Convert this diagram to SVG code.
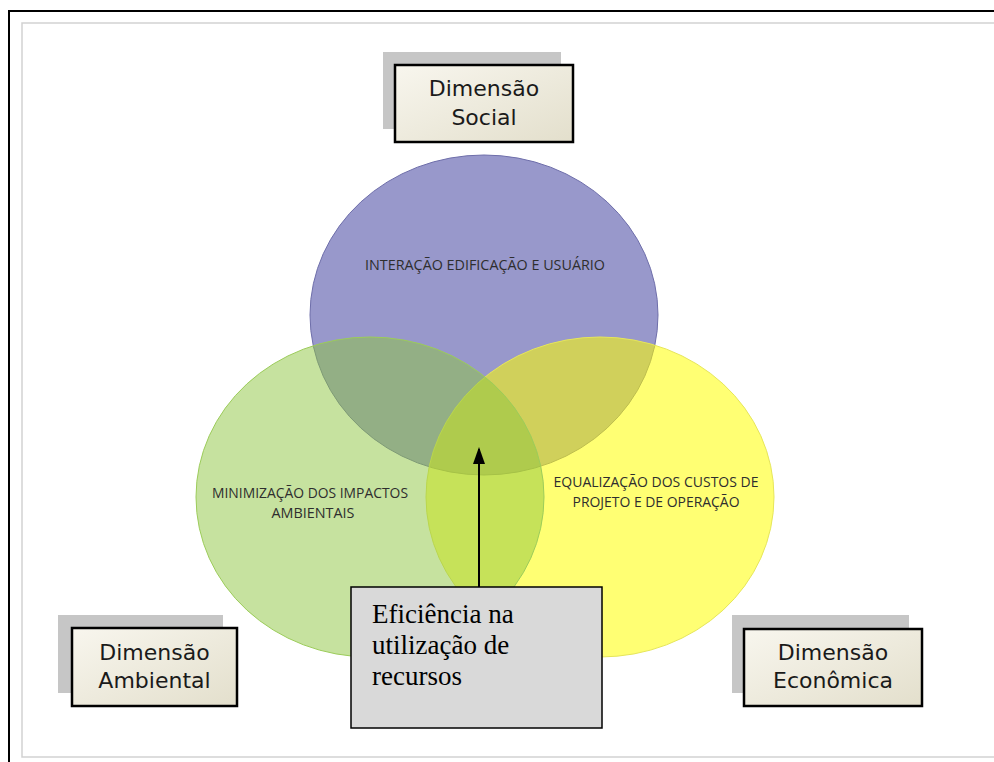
<svg xmlns="http://www.w3.org/2000/svg" width="994" height="762" viewBox="0 0 994 762">
<defs>
<linearGradient id="cream" x1="0" y1="0" x2="1" y2="1">
<stop offset="0" stop-color="#f8f6ee"/>
<stop offset="1" stop-color="#e3dfcc"/>
</linearGradient>
<marker id="arrow" markerWidth="17" markerHeight="12" refX="15" refY="6" orient="auto" markerUnits="userSpaceOnUse" viewBox="0 0 17 12">
<path d="M0,0 L17,6 L0,12 Z" fill="#000"/>
</marker>
<style>
.shadow{fill:#c6c6c6}
.dim{fill:url(#cream);stroke:#000;stroke-width:2.5}
.dimtxt{font-family:"DejaVu Sans",Verdana,sans-serif;font-size:22px;fill:#1a1a1a;text-anchor:middle}
.lbl{font-family:"Open Sans","Liberation Sans",sans-serif;font-size:14px;fill:#2e2e2e;text-anchor:middle}
.note{font-family:"Liberation Serif","Times New Roman",serif;font-size:27px;fill:#000}
</style>
</defs>
<rect x="0" y="0" width="994" height="762" fill="#fff"/>
<rect x="9" y="11" width="1000" height="800" fill="none" stroke="#000" stroke-width="2"/>
<rect x="22" y="23" width="1000" height="734" fill="none" stroke="#d2d2d2" stroke-width="1.5"/>

<g id="circle-social">
<ellipse cx="484" cy="315" rx="174" ry="160" fill="#9898cb" stroke="#6e6eaa" stroke-width="1"/>
</g>
<g id="circle-economica">
<ellipse cx="600" cy="497" rx="174" ry="160" fill="#ffff00" fill-opacity="0.55" stroke="#e6e65a" stroke-width="1"/>
</g>
<g id="circle-ambiental">
<ellipse cx="370" cy="497" rx="174" ry="160" fill="#8dc63f" fill-opacity="0.5" stroke="#9ccc5a" stroke-width="1"/>
</g>

<g id="labels">
<text class="lbl" x="485" y="270" textLength="240" lengthAdjust="spacingAndGlyphs">INTERAÇÃO EDIFICAÇÃO E USUÁRIO</text>
<text class="lbl" x="310" y="498" textLength="196" lengthAdjust="spacingAndGlyphs">MINIMIZAÇÃO DOS IMPACTOS</text>
<text class="lbl" x="313" y="518" textLength="83" lengthAdjust="spacingAndGlyphs">AMBIENTAIS</text>
<text class="lbl" x="656" y="487" textLength="205" lengthAdjust="spacingAndGlyphs">EQUALIZAÇÃO DOS CUSTOS DE</text>
<text class="lbl" x="656" y="507" textLength="167" lengthAdjust="spacingAndGlyphs">PROJETO E DE OPERAÇÃO</text>
</g>

<g id="dim-social">
<rect class="shadow" x="383" y="52" width="178" height="77"/>
<rect class="dim" x="395" y="65" width="178" height="77"/>
<text class="dimtxt" x="484" y="96">Dimensão</text>
<text class="dimtxt" x="484" y="125">Social</text>
</g>
<g id="dim-ambiental">
<rect class="shadow" x="58" y="615" width="165" height="78"/>
<rect class="dim" x="72" y="628" width="165" height="78"/>
<text class="dimtxt" x="154.5" y="660">Dimensão</text>
<text class="dimtxt" x="154.5" y="688">Ambiental</text>
</g>
<g id="dim-economica">
<rect class="shadow" x="732" y="615" width="177" height="78"/>
<rect class="dim" x="744" y="629" width="178" height="77"/>
<text class="dimtxt" x="833" y="660">Dimensão</text>
<text class="dimtxt" x="833" y="688">Econômica</text>
</g>

<g id="connectors">
<line x1="479" y1="588" x2="479" y2="449" stroke="#000" stroke-width="2" marker-end="url(#arrow)"/>
</g>

<g id="note-eficiencia">
<rect x="351" y="587" width="251" height="141" fill="#d9d9d9" stroke="#000" stroke-width="1.5"/>
<text class="note" x="372" y="623">Eficiência na</text>
<text class="note" x="372" y="654">utilização de</text>
<text class="note" x="372" y="685">recursos</text>
</g>
</svg>
